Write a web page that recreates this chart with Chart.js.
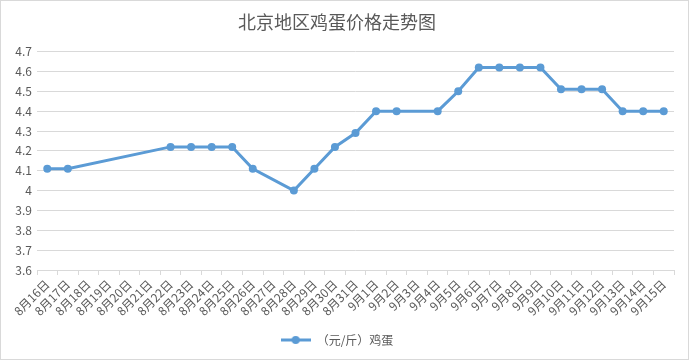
<!DOCTYPE html>
<html>
<head>
<meta charset="utf-8">
<script src="https://cdn.jsdelivr.net/npm/chart.js@4"></script>
<style>
  body { margin: 0; background: #fff; }
  #wrap { width: 689px; height: 360px; position: relative; }
</style>
</head>
<body>
<div id="wrap"><canvas id="eggChart" width="689" height="360"></canvas></div>
<script>
// 日期（8月16日 - 9月15日）
const days = [
  "8月16日", "8月17日", "8月18日", "8月19日", "8月20日", "8月21日", "8月22日", "8月23日",
  "8月24日", "8月25日", "8月26日", "8月27日", "8月28日", "8月29日", "8月30日", "8月31日",
  "9月1日", "9月2日", "9月3日", "9月4日", "9月5日", "9月6日", "9月7日", "9月8日",
  "9月9日", "9月10日", "9月11日", "9月12日", "9月13日", "9月14日", "9月15日"
];

// 鸡蛋价格（元/斤），null = 当天无数据
const eggPrice = [
  4.11, 4.11, null, null, null, null, 4.22, 4.22,
  4.22, 4.22, 4.11, null, 4.00, 4.11, 4.22, 4.29,
  4.40, 4.40, null, 4.40, 4.50, 4.62, 4.62, 4.62,
  4.62, 4.51, 4.51, 4.51, 4.40, 4.40, 4.40
];

const yMin = 3.6;
const yMax = 4.7;

const blue = "#5b9bd5";
const textGray = "#595959";
const gridGray = "#d9d9d9";
const font = "'Noto Sans CJK SC', 'Noto Sans', sans-serif";

// 图例标记：线 + 圆点
function legendMarker() {
  const c = document.createElement("canvas");
  c.width = 30;
  c.height = 10;
  const g = c.getContext("2d");
  g.strokeStyle = blue;
  g.lineWidth = 3;
  g.beginPath();
  g.moveTo(0, 5);
  g.lineTo(30, 5);
  g.stroke();
  g.fillStyle = blue;
  g.beginPath();
  g.arc(15, 5, 4, 0, Math.PI * 2);
  g.fill();
  return c;
}

// 背景 + 外边框
const framePlugin = {
  id: "frame",
  beforeDraw(chart) {
    const c = chart.ctx;
    c.save();
    c.fillStyle = "#fff";
    c.fillRect(0, 0, chart.width, chart.height);
    c.strokeStyle = gridGray;
    c.lineWidth = 1;
    c.strokeRect(0.5, 0.5, chart.width - 1, chart.height - 1);
    c.restore();
  }
};

const ctx = document.getElementById("eggChart").getContext("2d");

const eggChart = new Chart(ctx, {
  type: "line",
  data: {
    labels: days,
    datasets: [
      {
        label: "（元/斤）鸡蛋",
        data: eggPrice,
        borderColor: blue,
        backgroundColor: blue,
        borderWidth: 3,
        pointRadius: 4,
        pointHoverRadius: 4,
        pointBackgroundColor: blue,
        pointBorderWidth: 0,
        pointStyle: "circle",
        spanGaps: true,
        tension: 0,
      },
    ],
  },
  options: {
    responsive: false,
    animation: false,
    layout: {
      padding: { left: 0, right: 15, top: 0, bottom: 4 },
    },
    plugins: {
      title: {
        display: true,
        text: "北京地区鸡蛋价格走势图",
        color: textGray,
        font: { family: font, size: 18, weight: "normal" },
        padding: { top: 11, bottom: 19 },
      },
      legend: {
        position: "bottom",
        labels: {
          color: textGray,
          font: { family: font, size: 12 },
          usePointStyle: true,
          pointStyle: legendMarker(),
          pointStyleWidth: 30,
          padding: 6,
        },
      },
      tooltip: { enabled: false },
    },
    scales: {
      x: {
        type: "category",
        offset: true,
        afterFit(scale) {
          scale.height = 58;
        },
        grid: {
          offset: true,
          drawOnChartArea: false,
          drawTicks: true,
          tickLength: 5,
          color: gridGray,
        },
        border: { display: true, color: gridGray, width: 1 },
        ticks: {
          autoSkip: false,
          minRotation: 45,
          maxRotation: 45,
          color: textGray,
          padding: 2,
          font: { family: font, size: 12 },
        },
      },
      y: {
        min: yMin,
        max: yMax,
        afterFit(scale) {
          scale.width = 37;
        },
        ticks: {
          stepSize: 0.1,
          color: textGray,
          padding: 5,
          font: { family: font, size: 12 },
          callback: (v) => String(Number(v.toFixed(1))),
        },
        grid: {
          color: gridGray,
          drawTicks: false,
        },
        border: { display: false },
      },
    },
  },
  plugins: [framePlugin],
});
</script>
</body>
</html>
